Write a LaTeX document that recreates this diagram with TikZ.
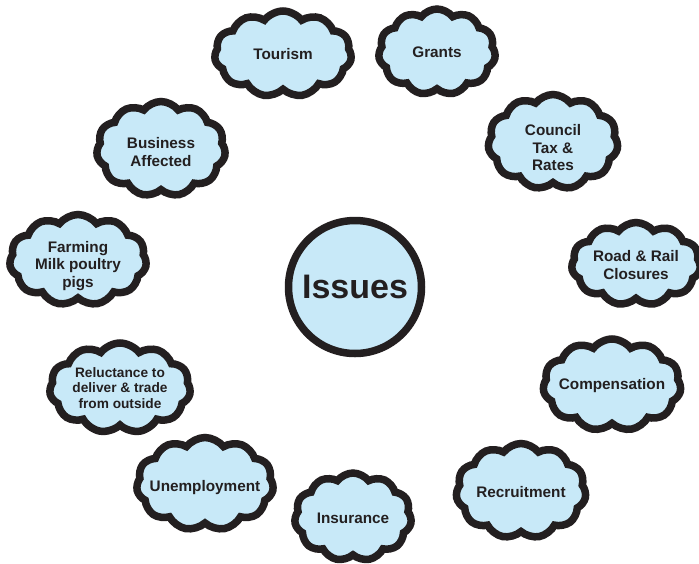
\documentclass[tikz,border=0pt]{standalone}
\usepackage{fontspec}
\setmainfont{Liberation Sans}
\usetikzlibrary{shapes.symbols}

\definecolor{skyfill}{HTML}{C8E9F8}
\definecolor{inkline}{HTML}{231F20}

\tikzset{
    issuecloud/.style={cloud, cloud puffs=11, cloud puff arc=105, draw=inkline, line width=7.5pt,
        fill=skyfill, inner sep=0pt},
    cloudtext/.style={text=inkline, inner sep=0pt, align=center,
        font=\bfseries\fontsize{15.3}{17.5}\selectfont},
    smalltext/.style={cloudtext, font=\bfseries\fontsize{13.7}{15.2}\selectfont},
    hubcircle/.style={circle, draw=inkline, line width=7.5pt, fill=skyfill, text=inkline,
        minimum size=133pt, inner sep=0pt, font=\bfseries\fontsize{34}{40}\selectfont}
}

\begin{document}
\begin{tikzpicture}[x=1pt, y=-1pt]
    \useasboundingbox (0,0) rectangle (699,563);

    % centre
    \node[hubcircle] (issues) at (355, 287) {Issues};

    % surrounding clouds, clockwise from the top
    \node[issuecloud, minimum width=137pt, minimum height=86pt, label={[cloudtext]center:Tourism}] (tourism) at (283, 54) {};
    \node[issuecloud, minimum width=117pt, minimum height=86pt, label={[cloudtext]center:Grants}] (grants) at (437, 52) {};
    \node[issuecloud, minimum width=130pt, minimum height=95pt, label={[cloudtext, yshift=-6pt]center:Council\\Tax \&\\Rates}] (council) at (553, 142) {};
    \node[issuecloud, minimum width=129pt, minimum height=83pt, label={[cloudtext, yshift=-1pt]center:Road \& Rail\\Closures}] (roadrail) at (636, 264) {};
    \node[issuecloud, minimum width=138pt, minimum height=92pt, label={[cloudtext, yshift=-1pt]center:Compensation}] (compensation) at (612, 385) {};
    \node[issuecloud, minimum width=130pt, minimum height=95pt, label={[cloudtext, yshift=-1pt]center:Recruitment}] (recruitment) at (521, 491) {};
    \node[issuecloud, minimum width=117pt, minimum height=88pt, label={[cloudtext, yshift=-1pt]center:Insurance}] (insurance) at (353, 517) {};
    \node[issuecloud, minimum width=137pt, minimum height=93pt, label={[cloudtext, yshift=-4pt]center:Unemployment}] (unemployment) at (205, 484) {};
    \node[issuecloud, minimum width=141pt, minimum height=90pt, label={[smalltext]center:Reluctance to\\deliver \& trade\\from outside}] (reluctance) at (120, 388) {};
    \node[issuecloud, minimum width=137pt, minimum height=91pt, label={[cloudtext, yshift=-6pt]center:Farming\\Milk poultry\\pigs}] (farming) at (78, 260) {};
    \node[issuecloud, minimum width=129pt, minimum height=95pt, label={[cloudtext, yshift=-3pt]center:Business\\Affected}] (business) at (161, 149) {};
\end{tikzpicture}
\end{document}
